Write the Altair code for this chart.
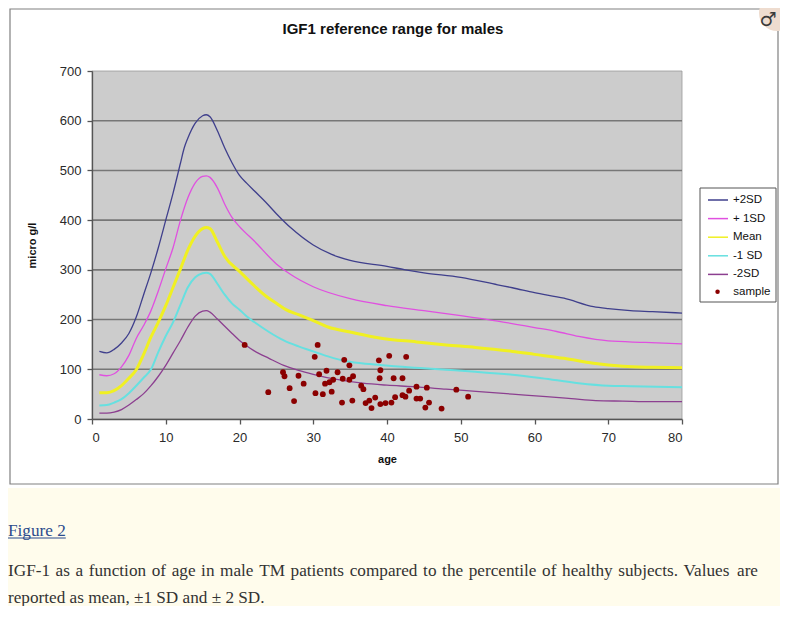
import altair as alt
import pandas as pd

# ---------------- data ----------------
series_names = ["+2SD", "+ 1SD", "Mean", "-1 SD", "-2SD"]
series_colors = ["#3f3f8c", "#e050e0", "#f0f022", "#66e0e0", "#8c3f90"]
sample_name = ["sample"]
sample_color = ["#8b0000"]

p2_age = [1, 2, 3, 4, 5, 6, 7, 8, 9, 10, 11, 12, 12.5, 13, 14, 15, 15.5, 16, 17, 18, 19, 20, 21, 22,
          23.5, 25, 27, 30, 32.5, 35, 40, 42.5, 45, 50, 55, 57, 60, 64, 68, 70, 73, 76, 80]
p2_val = [136, 133, 140, 153, 172, 205, 250, 295, 345, 400, 455, 515, 545, 565, 595, 610, 612, 608, 580,
          545, 515, 490, 474, 459, 437, 413, 384, 350, 331, 319, 307, 300, 294, 285, 270, 264, 254, 243,
          226, 222, 218, 216, 213]

p1_age = [1, 2, 3, 4, 5, 6, 7, 8, 9, 10, 11, 12, 13, 14, 15, 15.5, 16, 17, 18, 19, 20, 22, 25, 27, 30,
          35, 40, 45, 50, 55, 60, 63, 66, 70, 75, 80]
p1_val = [89, 87, 91, 105, 128, 162, 188, 218, 258, 302, 345, 400, 445, 475, 488, 489, 486, 465, 432,
          405, 387, 358, 312, 290, 266, 242, 228, 218, 208, 197, 184, 176, 166, 157, 154, 151]

mean_age = [1, 2, 3, 4, 5, 6, 7, 8, 9, 10, 11, 12, 13, 14, 15, 15.5, 16, 17, 18, 20, 22, 23.6, 25, 26.3,
            28, 30, 32, 35, 39, 44, 48, 52, 57, 60, 64, 68, 72, 76, 80]
mean_val = [53, 53, 57, 67, 82, 99, 130, 165, 195, 228, 265, 302, 340, 368, 383, 385, 383, 356, 327, 297,
            268, 247, 233, 220, 210, 198, 185, 175, 163, 155, 149, 144, 136, 130, 122, 112, 106, 104, 103]

m1_age = [1, 2, 3, 4, 5, 6, 7, 8, 9, 10, 11, 12, 13, 14, 15, 15.5, 16, 17, 18, 19, 20, 21, 22, 24, 26,
          28, 30, 32, 34.5, 38, 41, 45, 48, 52, 57, 61, 66, 70, 73, 80]
m1_val = [27, 28, 33, 40, 52, 67, 83, 100, 135, 167, 195, 230, 265, 285, 293, 294, 292, 272, 250, 232,
          220, 206, 195, 175, 158, 146, 136, 126, 116, 110, 106, 102, 99, 95, 89, 82, 72, 67, 66, 64]

m2_age = [1, 2, 3, 4, 5, 6, 7, 8, 9, 10, 11, 12, 13, 14, 15, 15.5, 16, 17, 19, 20, 21, 22, 24, 26, 28,
          30, 33, 36.7, 40, 43.5, 48, 52.5, 57, 61.6, 65, 68.3, 72, 76, 80]
m2_val = [12, 12, 14, 19, 28, 39, 51, 67, 86, 108, 133, 158, 185, 207, 217, 218, 215, 201, 172, 158, 147,
          137, 122, 108, 98, 90, 80, 72, 68, 65, 60, 55, 50, 45, 41, 37, 36, 35, 35]

sample_age = [20.7, 23.9, 25.9, 26.1, 26.8, 27.4, 28.0, 28.7, 30.2, 30.6, 30.3, 30.8, 31.3, 31.6, 31.8,
              32.2, 32.5, 32.7, 33.3, 33.9, 34.0, 34.2, 34.9, 34.9, 35.4, 35.3, 36.5, 36.8, 37.1, 37.6,
              37.9, 38.4, 38.9, 39.1, 39.0, 39.1, 39.8, 40.3, 40.6, 40.9, 41.1, 42.1, 42.1, 42.6, 42.5,
              43.0, 44.0, 44.0, 44.5, 45.2, 45.4, 45.7, 47.4, 49.4, 51.0]
sample_val = [149, 54, 94, 86, 62, 36, 87, 71, 125, 149, 52, 90, 50, 71, 97,
              74, 55, 79, 94, 33, 81, 119, 108, 79, 86, 37, 67, 60, 32, 37,
              22, 43, 118, 98, 82, 30, 32, 127, 33, 82, 44, 82, 48, 125, 45,
              57, 65, 41, 41, 23, 63, 33, 21, 59, 45]

y_ticks = [0, 100, 200, 300, 400, 500, 600, 700]
x_ticks = [0, 10, 20, 30, 40, 50, 60, 70, 80]
grid_vals = [100, 200, 300, 400, 500, 600]

title_text = "IGF1 reference range for males"
x_title = "age"
y_title = "micro g/l"
fig_label = "Figure 2"
caption_1 = ("IGF-1 as a function of age in male TM patients compared to the percentile of healthy "
             "subjects. Values are")
caption_2 = "reported as mean, \u00b11 SD and \u00b1 2 SD."

# ---------------- tables ----------------
curves = [(series_names[0], p2_age, p2_val), (series_names[1], p1_age, p1_val),
          (series_names[2], mean_age, mean_val), (series_names[3], m1_age, m1_val),
          (series_names[4], m2_age, m2_val)]
rows = []
for name, ages, vals in curves:
    for a, v in zip(ages, vals):
        rows.append({"series": name, "age": a, "value": v})
curve_df = pd.DataFrame(rows)
sample_df = pd.DataFrame({"series": sample_name[0], "age": sample_age, "value": sample_val})
bg_df = pd.DataFrame({"age": [x_ticks[0]], "age2": [x_ticks[-1]],
                      "value": [y_ticks[0]], "value2": [y_ticks[-1]]})
grid_df = pd.DataFrame({"value": grid_vals})
one = pd.DataFrame({"k": [0]})

FONT = "Liberation Sans"
SERIF = "Liberation Serif"

xscale = alt.Scale(domain=[0, 80], nice=False, zero=False)
yscale = alt.Scale(domain=[0, 700], nice=False)
cscale = alt.Scale(domain=series_names, range=series_colors)
fscale = alt.Scale(domain=sample_name, range=sample_color)

xaxis = alt.Axis(values=x_ticks, title=x_title, grid=False, zindex=1, tickSize=5,
                 labelFontSize=13, labelFont=FONT, labelColor="#2a2a2a", labelPadding=7,
                 domainColor="#555555", tickColor="#555555", domainWidth=1.3, tickWidth=1.3,
                 titleFont=FONT, titleFontSize=11, titleFontWeight="bold", titleColor="#111111",
                 titlePadding=9)
yaxis = alt.Axis(values=y_ticks, title=y_title, grid=False, zindex=1, tickSize=5,
                 labelFontSize=13, labelFont=FONT, labelColor="#2a2a2a", labelPadding=6,
                 domainColor="#555555", tickColor="#555555", domainWidth=1.3, tickWidth=1.3,
                 titleFont=FONT, titleFontSize=11, titleFontWeight="bold", titleColor="#111111",
                 titlePadding=22)

X = alt.X("age:Q", scale=xscale, axis=xaxis)
Y = alt.Y("value:Q", scale=yscale, axis=yaxis)

# decorative frame (white chart box on a page with a cream caption area)
box = alt.Chart(one).mark_rect(fill="white", stroke="#808080", strokeWidth=1.2).encode(
    x=alt.value(-82), x2=alt.value(686), y=alt.value(-62), y2=alt.value(413))
cream = alt.Chart(one).mark_rect(fill="#fffcec").encode(
    x=alt.value(-90), x2=alt.value(700), y=alt.value(417), y2=alt.value(560))
legend_box = alt.Chart(one).mark_rect(fill="white", stroke="#555555", strokeWidth=1).encode(
    x=alt.value(608), x2=alt.value(684), y=alt.value(117), y2=alt.value(231))

plot_bg = alt.Chart(bg_df).mark_rect(fill="#cccccc", stroke="#9a9a9a", strokeWidth=0.8).encode(
    x=X, x2="age2:Q", y=Y, y2="value2:Q")

grid = alt.Chart(grid_df).mark_rule(color="#777777", strokeWidth=1.6).encode(y=Y)

leg_common = dict(orient="none", title=None, padding=0, labelFont=FONT, labelFontSize=11.5,
                  labelColor="#111111")


def line_layer(names, width, legend):
    return alt.Chart(curve_df).transform_filter(
        alt.FieldOneOfPredicate(field="series", oneOf=names)
    ).mark_line(interpolate="monotone", strokeWidth=width).encode(
        x=X, y=Y,
        color=alt.Color("series:N", scale=cscale, legend=legend),
        order=alt.Order("age:Q"))


line_legend = alt.Legend(legendX=615, legendY=118, symbolType="stroke", symbolSize=400,
                         symbolStrokeWidth=1.5, labelOffset=4, rowPadding=1.6, **leg_common)
lines_thin = line_layer([series_names[0], series_names[1], series_names[4]], 1.3, line_legend)
lines_cyan = line_layer([series_names[3]], 2.0, line_legend)
lines_mean = line_layer([series_names[2]], 3.0, line_legend)

pts = alt.Chart(sample_df).mark_point(filled=True, opacity=1, size=34, shape="circle").encode(
    x=X, y=Y,
    fill=alt.Fill("series:N", scale=fscale,
                  legend=alt.Legend(legendX=619.8, legendY=215, symbolType="circle",
                                    symbolSize=20, labelOffset=10, **leg_common)))

title = alt.Chart(one).mark_text(font=FONT, fontSize=15, fontWeight="bold", color="#111111",
                                 align="center", baseline="alphabetic").encode(
    x=alt.value(301), y=alt.value(-37.5), text=alt.value(title_text))

icon_bg = alt.Chart(one).mark_point(filled=True, shape="circle", fill="#eedccf", opacity=1,
                                    size=1300).encode(x=alt.value(685), y=alt.value(-58))
icon = alt.Chart(one).mark_text(font="DejaVu Sans", fontSize=19, fontWeight="bold",
                                color="#3a3a3a", align="center", baseline="middle").encode(
    x=alt.value(676), y=alt.value(-51), text=alt.value("\u2642"))

# ---------------- caption (justified first line, like the web page) ----------------
CAP_SIZE = 17.2
TIMES_W = {" ": 250, "!": 333, "(": 333, ")": 333, ",": 250, "-": 333, ".": 250, "/": 278,
           ":": 278, "\u00b1": 564,
           "A": 722, "B": 667, "C": 667, "D": 722, "E": 611, "F": 556, "G": 722, "H": 722,
           "I": 333, "J": 389, "K": 722, "L": 611, "M": 889, "N": 722, "O": 722, "P": 556,
           "Q": 722, "R": 667, "S": 556, "T": 611, "U": 722, "V": 722, "W": 944, "X": 722,
           "Y": 722, "Z": 611,
           "a": 444, "b": 500, "c": 444, "d": 500, "e": 444, "f": 333, "g": 500, "h": 500,
           "i": 278, "j": 278, "k": 500, "l": 278, "m": 778, "n": 500, "o": 500, "p": 500,
           "q": 500, "r": 333, "s": 389, "t": 278, "u": 500, "v": 500, "w": 722, "x": 500,
           "y": 500, "z": 444}


def text_w(s):
    return sum(TIMES_W.get(c, 500) for c in s) * CAP_SIZE / 1000.0


LEFT = -84          # caption left edge (plot pixels)
RIGHT_JUST = 666    # right edge of the justified line
words = caption_1.split(" ")
natural = sum(text_w(w) for w in words)
gap = (RIGHT_JUST - LEFT - natural) / (len(words) - 1)

caption_layers = []
xpos = LEFT
for w in words:
    caption_layers.append(
        alt.Chart(one).mark_text(font=SERIF, fontSize=CAP_SIZE, color="#333333", align="left",
                                 baseline="alphabetic").encode(
            x=alt.value(round(xpos, 1)), y=alt.value(505), text=alt.value(w)))
    xpos += text_w(w) + gap

cap2 = alt.Chart(one).mark_text(font=SERIF, fontSize=CAP_SIZE, color="#333333", align="left",
                                baseline="alphabetic").encode(
    x=alt.value(LEFT), y=alt.value(531.5), text=alt.value(caption_2))
fig = alt.Chart(one).mark_text(font=SERIF, fontSize=CAP_SIZE, color="#2b4b8c", align="left",
                               baseline="alphabetic").encode(
    x=alt.value(LEFT), y=alt.value(464.5), text=alt.value(fig_label))
fig_ul = alt.Chart(one).mark_rule(color="#2b4b8c", strokeWidth=1).encode(
    x=alt.value(LEFT), x2=alt.value(round(LEFT + text_w(fig_label), 1)), y=alt.value(467))

chart = alt.layer(box, cream, plot_bg, grid, lines_thin, lines_cyan, lines_mean, pts,
                  legend_box, title, icon_bg, icon, fig, fig_ul, cap2,
                  *caption_layers).properties(
    width=590, height=348,
    autosize=alt.AutoSizeParams(type="none"),
    padding={"left": 84, "top": 63, "right": 98, "bottom": 187},
    background="white",
).configure_view(stroke=None)

chart.save("out.html", embed_options={"renderer": "svg", "actions": False})
